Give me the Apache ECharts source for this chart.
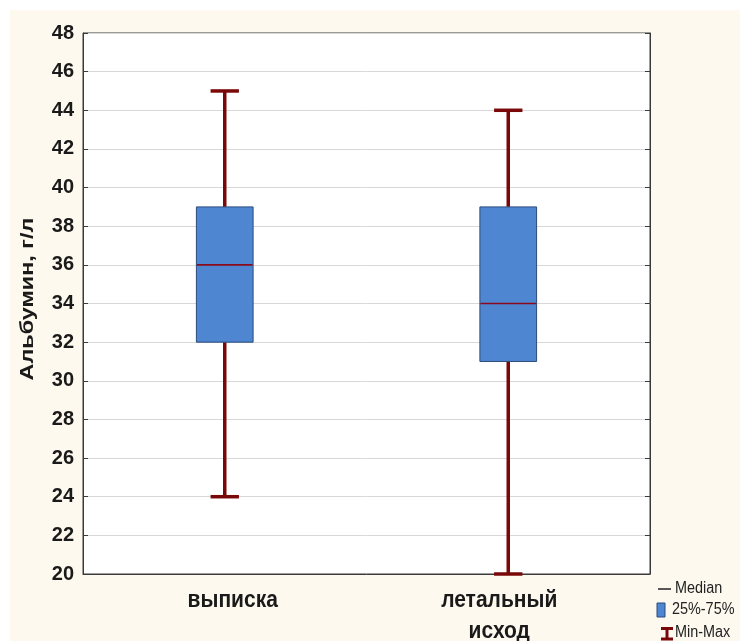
<!DOCTYPE html>
<html>
<head>
<meta charset="utf-8">
<script src="https://cdn.jsdelivr.net/npm/echarts@6/dist/echarts.min.js"></script>
<style>
  html, body { margin: 0; padding: 0; background: #ffffff; }
  #chart { width: 740px; height: 641px; }
</style>
</head>
<body>
<div id="chart"></div>
<script>
// Albumin level by outcome group: min, Q1, median, Q3, max
const categories = ['выписка', 'летальный\nисход'];
const minVals = [24, 20];
const q1Vals = [32, 31];
const medianVals = [36, 34];
const q3Vals = [39, 39];
const maxVals = [45, 44];
const yTicks = [20, 48, 2]; // min, max, step
const legendLabels = ['Median', '25%-75%', 'Min-Max'];

const WHISKER = '#7a0808';
const MEDIAN = '#8b0a1a';
const BOX_FILL = '#4f86d2';
const BOX_EDGE = '#2c4a7a';

const boxData = categories.map((c, i) => [i, minVals[i], q1Vals[i], medianVals[i], q3Vals[i], maxVals[i]]);

const chart = echarts.init(document.getElementById('chart'), null, { renderer: 'canvas' });

const font = 'Arial, "Liberation Sans", sans-serif';

const staticGraphics = [
  { type: 'rect', z: -10, silent: true, shape: { x: 10, y: 10, width: 730, height: 631 }, style: { fill: '#fdf9ef' } },
  // vertical axis title, stretched along its length
  { type: 'text', z: 10, x: 28, y: 299, rotation: Math.PI / 2, scaleX: 1.3,
    style: { text: 'Альбумин, г/л', font: 'bold 18px ' + font, fill: '#1a1a1a', align: 'center', verticalAlign: 'middle' } },
  // legend: median line
  { type: 'line', z: 10, shape: { x1: 658, y1: 589, x2: 671, y2: 589 }, style: { stroke: '#222', lineWidth: 1.5 } },
  { type: 'text', z: 10, x: 675, y: 589, scaleX: 0.9,
    style: { text: legendLabels[0], font: '16px ' + font, fill: '#222', verticalAlign: 'middle' } },
  // legend: box
  { type: 'rect', z: 10, shape: { x: 657, y: 603, width: 8, height: 14 }, style: { fill: BOX_FILL, stroke: BOX_EDGE, lineWidth: 1 } },
  { type: 'text', z: 10, x: 672, y: 610, scaleX: 0.9,
    style: { text: legendLabels[1], font: '16px ' + font, fill: '#222', verticalAlign: 'middle' } },
  // legend: min-max whisker
  { type: 'line', z: 10, shape: { x1: 661, y1: 628.5, x2: 673, y2: 628.5 }, style: { stroke: WHISKER, lineWidth: 3 } },
  { type: 'line', z: 10, shape: { x1: 667, y1: 628.5, x2: 667, y2: 639 }, style: { stroke: WHISKER, lineWidth: 3 } },
  { type: 'line', z: 10, shape: { x1: 661, y1: 639, x2: 673, y2: 639 }, style: { stroke: WHISKER, lineWidth: 3 } },
  { type: 'text', z: 10, x: 675, y: 633, scaleX: 0.9,
    style: { text: legendLabels[2], font: '16px ' + font, fill: '#222', verticalAlign: 'middle' } }
];

chart.setOption({
  backgroundColor: '#ffffff',
  animation: false,
  grid: {
    left: 83, right: 90, top: 33, bottom: 67,
    outerBoundsMode: 'none', containLabel: false,
    show: true, backgroundColor: '#ffffff', borderColor: '#3a3a3a', borderWidth: 1
  },
  graphic: staticGraphics,
  xAxis: {
    type: 'category',
    data: categories,
    boundaryGap: true,
    axisLine: { lineStyle: { color: '#3a3a3a', width: 1 } },
    axisTick: { inside: true, alignWithLabel: true, length: 5, lineStyle: { color: '#3a3a3a' } },
    axisLabel: { show: false },
    splitLine: { show: false }
  },
  yAxis: [
    {
      type: 'value', min: yTicks[0], max: yTicks[1], interval: yTicks[2],
      axisLine: { show: true, lineStyle: { color: '#3a3a3a' } },
      axisTick: { show: true, inside: true, length: 5, lineStyle: { color: '#3a3a3a' } },
      axisLabel: { margin: 9, color: '#1a1a1a', fontFamily: font, fontWeight: 'bold', fontSize: 20 },
      splitLine: { show: true, lineStyle: { color: '#d8d8d8', width: 1 } }
    },
    {
      type: 'value', position: 'right', min: yTicks[0], max: yTicks[1], interval: yTicks[2],
      axisLine: { show: true, lineStyle: { color: '#3a3a3a' } },
      axisTick: { show: true, inside: true, length: 5, lineStyle: { color: '#3a3a3a' } },
      axisLabel: { show: false },
      splitLine: { show: false }
    }
  ],
  series: [{
    type: 'custom',
    data: boxData,
    encode: { x: 0, y: [1, 2, 3, 4, 5] },
    renderItem: function (params, api) {
      const idx = api.value(0);
      const pMin = api.coord([idx, api.value(1)]);
      const pQ1 = api.coord([idx, api.value(2)]);
      const pMed = api.coord([idx, api.value(3)]);
      const pQ3 = api.coord([idx, api.value(4)]);
      const pMax = api.coord([idx, api.value(5)]);
      const band = api.size([1, 0])[0];
      const halfBox = band * 0.2 / 2;
      const halfCap = band * 0.1 / 2;
      const x = pMed[0];
      const ws = { stroke: WHISKER, lineWidth: 3.5 };
      return {
        type: 'group',
        children: [
          { type: 'line', shape: { x1: x, y1: pMax[1], x2: x, y2: pQ3[1] }, style: ws },
          { type: 'line', shape: { x1: x, y1: pQ1[1], x2: x, y2: pMin[1] }, style: ws },
          { type: 'line', shape: { x1: x - halfCap, y1: pMax[1], x2: x + halfCap, y2: pMax[1] }, style: ws },
          { type: 'line', shape: { x1: x - halfCap, y1: pMin[1], x2: x + halfCap, y2: pMin[1] }, style: ws },
          { type: 'rect', shape: { x: x - halfBox, y: pQ3[1], width: halfBox * 2, height: pQ1[1] - pQ3[1] },
            style: { fill: BOX_FILL, stroke: BOX_EDGE, lineWidth: 1 } },
          { type: 'line', shape: { x1: x - halfBox + 0.5, y1: pMed[1], x2: x + halfBox - 0.5, y2: pMed[1] },
            style: { stroke: MEDIAN, lineWidth: 1.6 } }
        ]
      };
    }
  }]
});

// Category names under the axis: tall bold lettering, anchored at each category's
// pixel position from the x scale, with a small sideways nudge per name.
const labelNudge = [8, -9];
const axisBottom = chart.convertToPixel({ yAxisIndex: 0 }, yTicks[0]);
const catLabels = categories.map((c, i) => ({
  type: 'text', z: 10,
  x: chart.convertToPixel({ xAxisIndex: 0 }, c) + labelNudge[i],
  y: axisBottom + 11,
  scaleY: 1.15,
  style: {
    text: c, font: 'bold 21px ' + font, fill: '#1a1a1a',
    align: 'center', verticalAlign: 'top', lineHeight: 27
  }
}));
chart.setOption({ graphic: staticGraphics.concat(catLabels) });
</script>
</body>
</html>
